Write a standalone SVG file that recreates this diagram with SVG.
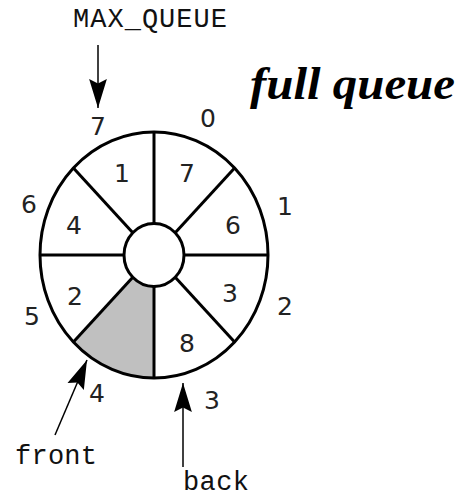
<svg xmlns="http://www.w3.org/2000/svg" width="460" height="498" viewBox="0 0 460 498">
<style>
.ring{fill:none;stroke:#000;stroke-width:3}
.spoke{stroke:#000;stroke-width:3;fill:none}
.num{font-family:"DejaVu Sans","Liberation Sans",sans-serif;font-size:25px;fill:#222;text-anchor:middle}
.mono{font-family:"Liberation Mono","DejaVu Sans Mono",monospace;font-size:27px;fill:#111}
.ptr{stroke:#000;stroke-width:1.5;fill:none}
.title{font-family:"Liberation Serif","Times New Roman",serif;font-weight:bold;font-style:italic;font-size:46px;fill:#000}
</style>
<defs>
<marker id="ah" markerUnits="userSpaceOnUse" markerWidth="30" markerHeight="20" viewBox="0 0 26 18" refX="26" refY="9" orient="auto">
<path d="M0,1 L26,9 L0,17 L4,9 Z" fill="#000"/>
</marker>
</defs>
<rect width="460" height="498" fill="#fff"/>
<g id="queue-ring">
<path d="M132.8,277.3 L73.4,342 A114,123 0 0 0 154,378 L154,286.5 A30,31.5 0 0 1 132.8,277.3 Z" fill="#c0c0c0"/>
<ellipse class="ring" cx="154" cy="255" rx="114" ry="123"/>
<g class="spoke">
<line x1="154" y1="132" x2="154" y2="223.5"/>
<line x1="154" y1="286.5" x2="154" y2="378"/>
<line x1="40" y1="255" x2="124" y2="255"/>
<line x1="184" y1="255" x2="268" y2="255"/>
<line x1="73.4" y1="168" x2="132.8" y2="232.7"/>
<line x1="234.6" y1="168" x2="175.2" y2="232.7"/>
<line x1="73.4" y1="342" x2="132.8" y2="277.3"/>
<line x1="234.6" y1="342" x2="175.2" y2="277.3"/>
</g>
<ellipse class="ring" cx="154" cy="255" rx="30" ry="31.5" fill="#fff"/>
</g>
<g id="cell-values">
<text class="num" x="122" y="182">1</text>
<text class="num" x="187" y="182">7</text>
<text class="num" x="74" y="234">4</text>
<text class="num" x="233" y="234">6</text>
<text class="num" x="75" y="305">2</text>
<text class="num" x="230" y="302">3</text>
<text class="num" x="187" y="352">8</text>
</g>
<g id="indices">
<text class="num" x="98" y="135">7</text>
<text class="num" x="208" y="127">0</text>
<text class="num" x="285" y="215">1</text>
<text class="num" x="29" y="213">6</text>
<text class="num" x="32" y="325">5</text>
<text class="num" x="285" y="315">2</text>
<text class="num" x="97" y="402">4</text>
<text class="num" x="212" y="409">3</text>
</g>
<g id="title">
<text class="title" x="250" y="99" textLength="205" lengthAdjust="spacingAndGlyphs">full queue</text>
</g>
<g id="max-queue-label"><text class="mono" x="73" y="27" textLength="154">MAX_QUEUE</text></g>
<g id="front-label"><text class="mono" x="15" y="464" textLength="82">front</text></g>
<g id="back-label"><text class="mono" x="183" y="490" textLength="66">back</text></g>
<g id="connectors">
<line class="ptr" x1="98" y1="45" x2="98" y2="108" marker-end="url(#ah)"/>
<line class="ptr" x1="55" y1="435" x2="87" y2="360" marker-end="url(#ah)"/>
<line class="ptr" x1="183" y1="467" x2="183" y2="383" marker-end="url(#ah)"/>
</g>
</svg>
